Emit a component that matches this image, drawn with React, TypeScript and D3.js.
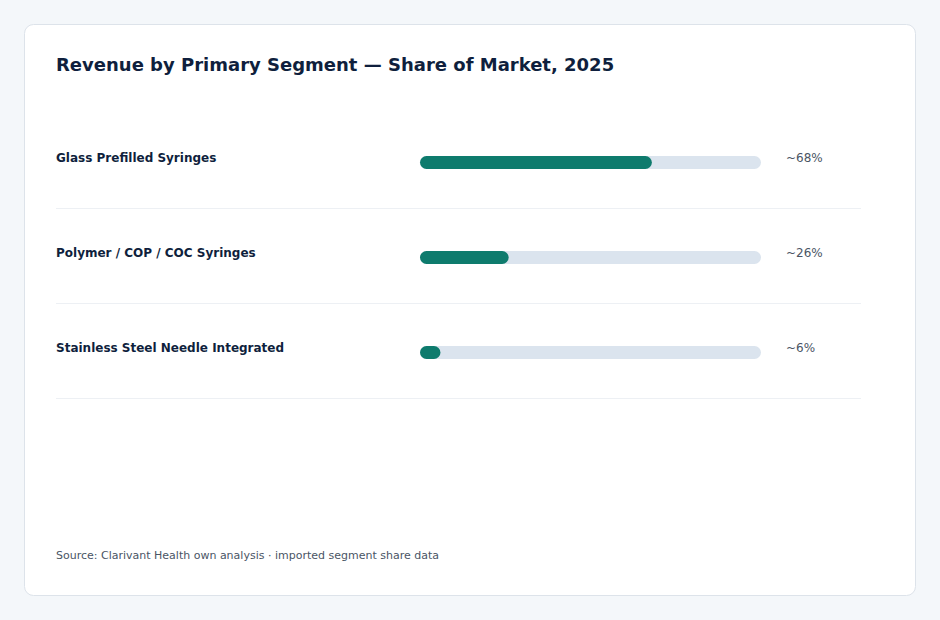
import { useEffect, useRef } from 'react';
import * as d3 from 'd3';

// segment shares, 2025
const segments = [
  'Glass Prefilled Syringes',
  'Polymer / COP / COC Syringes',
  'Stainless Steel Needle Integrated',
];
const shares = [68, 26, 6];
const shareLabels = ['~68%', '~26%', '~6%'];

const W = 940;
const H = 620;

const App = () => {
  const svgRef = useRef<SVGSVGElement>(null);

  useEffect(() => {
    const svg = d3.select(svgRef.current);
    svg.selectAll('*').remove();

    const font = '"DejaVu Sans", Verdana, sans-serif';

    // page + card
    svg.append('rect').attr('width', W).attr('height', H).attr('fill', '#f4f7fa');
    svg.append('rect')
      .attr('x', 24.5).attr('y', 24.5)
      .attr('width', 891).attr('height', 571)
      .attr('rx', 9)
      .attr('fill', '#ffffff')
      .attr('stroke', '#dde3ea');

    svg.append('text')
      .attr('x', 56).attr('y', 71)
      .style('font-family', font)
      .style('font-size', '18px')
      .style('font-weight', 'bold')
      .style('fill', '#0f1f3d')
      .text('Revenue by Primary Segment — Share of Market, 2025');

    // scales
    const x = d3.scaleLinear().domain([0, 100]).range([420, 761]);
    const y = d3.scaleBand<string>()
      .domain(segments)
      .range([115, 400])
      .paddingInner(0)
      .paddingOuter(0);

    const barH = 13;
    const rows = svg.selectAll('.row')
      .data(segments)
      .enter().append('g')
      .attr('class', 'row')
      .attr('transform', d => `translate(0,${y(d)})`);

    const bw = y.bandwidth();
    const cy = bw / 2;

    rows.append('text')
      .attr('x', 56).attr('y', cy - 0.5)
      .style('font-family', font)
      .style('font-size', '12px')
      .style('font-weight', 'bold')
      .style('fill', '#0f1f3d')
      .text(d => d);

    // track
    rows.append('rect')
      .attr('x', x(0)).attr('y', cy - 6.5)
      .attr('width', x(100) - x(0)).attr('height', barH)
      .attr('rx', barH / 2)
      .attr('fill', '#dbe4ee');

    // value bar
    rows.append('rect')
      .attr('x', x(0)).attr('y', cy - 6.5)
      .attr('width', (d, i) => x(shares[i]) - x(0)).attr('height', barH)
      .attr('rx', barH / 2)
      .attr('fill', '#0e7b6d');

    rows.append('text')
      .attr('x', 786).attr('y', cy - 0.5)
      .style('font-family', font)
      .style('font-size', '12px')
      .style('fill', '#4a5565')
      .text((d, i) => shareLabels[i]);

    // row separators
    rows.append('line')
      .attr('x1', 56).attr('x2', 861)
      .attr('y1', bw - 1.5).attr('y2', bw - 1.5)
      .attr('stroke', '#edf0f4');

    svg.append('text')
      .attr('x', 56).attr('y', 559)
      .style('font-family', font)
      .style('font-size', '11px')
      .style('fill', '#4a5565')
      .text('Source: Clarivant Health own analysis · imported segment share data');
  }, []);

  return (
    <svg
      ref={svgRef}
      width={W}
      height={H}
      style={{ position: 'fixed', top: 0, left: 0, display: 'block' }}
    />
  );
};

export default App;
